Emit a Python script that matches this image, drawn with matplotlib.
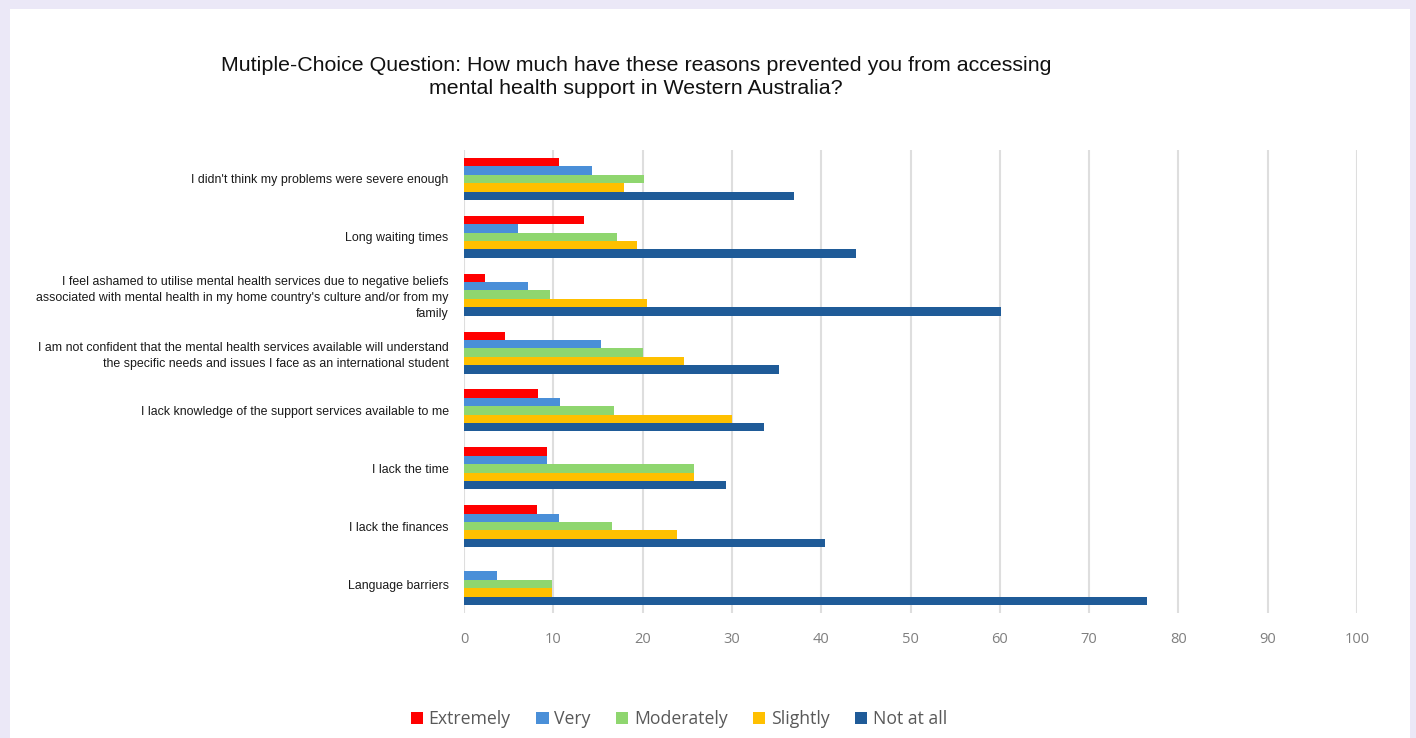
import matplotlib

matplotlib.use("Agg")
import matplotlib.pyplot as plt
import numpy as np
from matplotlib.patches import Rectangle

categories = [
    "I didn't think my problems were severe enough",
    "Long waiting times",
    "I feel ashamed to utilise mental health services due to negative beliefs\n"
    "associated with mental health in my home country's culture and/or from my\n"
    "family",
    "I am not confident that the mental health services available will understand\n"
    "the specific needs and issues I face as an international student",
    "I lack knowledge of the support services available to me",
    "I lack the time",
    "I lack the finances",
    "Language barriers",
]
series_names = ["Extremely", "Very", "Moderately", "Slightly", "Not at all"]
extremely = [10.6, 13.4, 2.4, 4.6, 8.3, 9.3, 8.2, 0.0]
very = [14.3, 6.1, 7.2, 15.3, 10.7, 9.3, 10.6, 3.7]
moderately = [20.2, 17.1, 9.6, 20.0, 16.8, 25.8, 16.6, 9.8]
slightly = [17.9, 19.4, 20.5, 24.6, 30.0, 25.8, 23.8, 9.8]
not_at_all = [36.9, 43.9, 60.1, 35.3, 33.6, 29.3, 40.4, 76.5]
xticks = list(range(0, 101, 10))

COLORS = ["#ff0000", "#4a8fd8", "#8fd66f", "#ffc000", "#1f5b98"]

fig = plt.figure(figsize=(14.16, 7.38), dpi=100)
fig.patch.set_facecolor("#ebe8f7")
fig.add_artist(Rectangle((10 / 1416, 0), 1400 / 1416, 729 / 738,
                         transform=fig.transFigure, facecolor="white",
                         edgecolor="none", zorder=0))

ax = fig.add_axes([464 / 1416, 1 - 613 / 738, 893 / 1416, 463 / 738])
ax.set_facecolor("none")

y = np.arange(len(categories))
h = 0.145
values = [extremely, very, moderately, slightly, not_at_all]
for i, (name, vals, col) in enumerate(zip(series_names, values, COLORS)):
    ax.barh(y + (i - 2) * h, vals, height=h, color=col, label=name,
            edgecolor="none", zorder=3)

ax.set_xlim(0, 100)
ax.set_ylim(len(categories) - 0.5, -0.5)
ax.set_xticks(xticks)
ax.set_xticklabels([str(t) for t in xticks], fontsize=10.5, color="#7f7f7f",
                   family="Open Sans")
ax.set_yticks(y)
ax.set_yticklabels(categories, fontsize=8.9, family="Liberation Sans",
                   color="#1a1a1a", multialignment="right", linespacing=1.45)
ax.tick_params(axis="both", length=0)
ax.tick_params(axis="x", pad=14)
ax.tick_params(axis="y", pad=11)
ax.grid(axis="x", color="#dedede", linewidth=1.5, zorder=0)
for s in ax.spines.values():
    s.set_visible(False)

fig.text(636 / 1416, 1 - 77 / 738,
         "Mutiple-Choice Question: How much have these reasons prevented you from accessing\n"
         "mental health support in Western Australia?",
         ha="center", va="center", fontsize=15.4, family="Liberation Sans",
         linespacing=1.3, color="#111111")

leg = fig.legend(loc="center", bbox_to_anchor=(679 / 1416, 1 - 719 / 738),
                 ncol=5, frameon=False, prop={"family": "Open Sans", "size": 12.7},
                 handlelength=0.7, handleheight=0.7, handletextpad=0.3,
                 columnspacing=1.45, labelcolor="#595959")

fig.savefig("out.png", dpi=100)
